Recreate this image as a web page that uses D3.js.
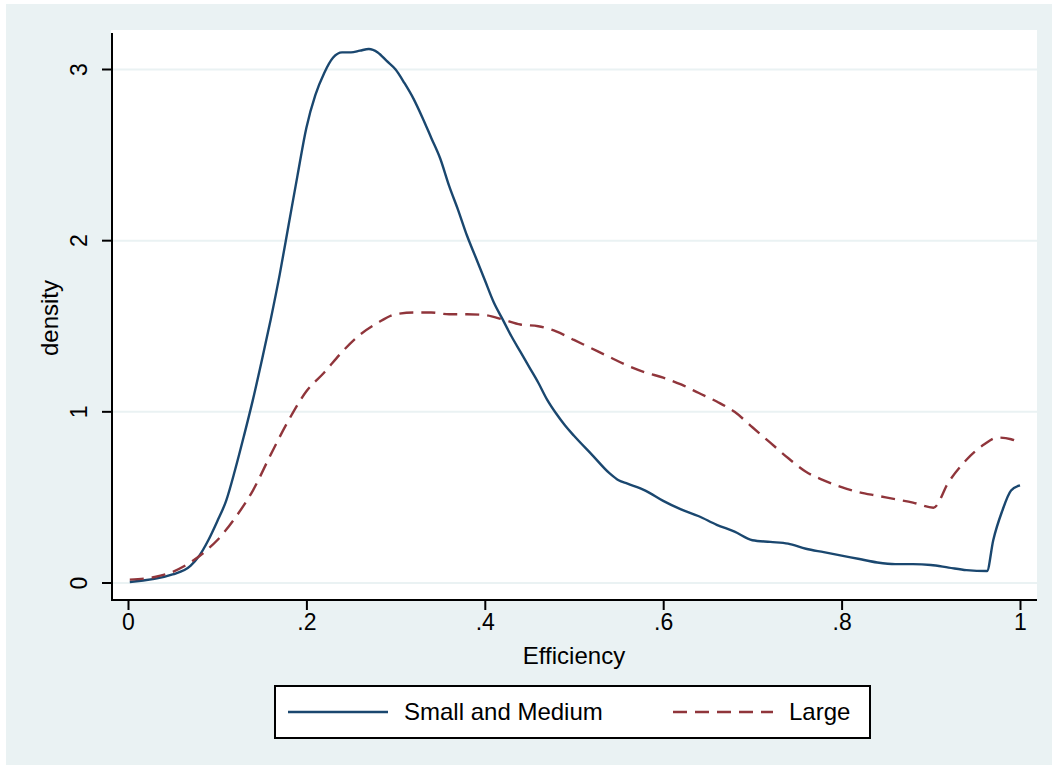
<!DOCTYPE html>
<html>
<head>
<meta charset="utf-8">
<script src="https://cdn.jsdelivr.net/npm/d3@7"></script>
<style>
  body { margin: 0; background: #fff; }
  text { font-family: "Liberation Sans", Arial, sans-serif; fill: #000; }
</style>
</head>
<body>
<div id="chart"></div>
<script>
// data
var xSmall = [0.002, 0.05, 0.07, 0.08, 0.09, 0.10, 0.11, 0.12, 0.13, 0.14, 0.15, 0.16, 0.17, 0.18, 0.19, 0.20,
  0.21, 0.22, 0.23, 0.24, 0.25, 0.26, 0.27, 0.28, 0.29, 0.30, 0.31, 0.32, 0.33, 0.34, 0.35, 0.36, 0.37, 0.38,
  0.39, 0.40, 0.41, 0.42, 0.43, 0.44, 0.45, 0.46, 0.47, 0.48, 0.49, 0.50, 0.52, 0.54, 0.55, 0.56, 0.58, 0.60,
  0.62, 0.64, 0.66, 0.68, 0.70, 0.72, 0.74, 0.76, 0.78, 0.80, 0.82, 0.84, 0.86, 0.88, 0.90, 0.92, 0.94, 0.963,
  0.97, 0.98, 0.99, 1.00];
var ySmall = [0.006, 0.05, 0.1, 0.16, 0.25, 0.36, 0.48, 0.66, 0.86, 1.07, 1.3, 1.54, 1.8, 2.09, 2.38, 2.66,
  2.85, 2.98, 3.07, 3.1, 3.1, 3.11, 3.12, 3.1, 3.05, 3.0, 2.92, 2.83, 2.72, 2.6, 2.48, 2.32, 2.18, 2.03,
  1.9, 1.77, 1.64, 1.54, 1.44, 1.35, 1.26, 1.17, 1.07, 0.99, 0.92, 0.86, 0.75, 0.64, 0.6, 0.58, 0.54, 0.48,
  0.43, 0.39, 0.34, 0.3, 0.25, 0.24, 0.23, 0.2, 0.18, 0.16, 0.14, 0.12, 0.11, 0.11, 0.105, 0.09, 0.075, 0.07,
  0.25, 0.42, 0.54, 0.57];

var xLarge = [0.002, 0.03, 0.05, 0.07, 0.09, 0.10, 0.12, 0.14, 0.16, 0.18, 0.20, 0.22, 0.24, 0.26, 0.28, 0.30,
  0.32, 0.34, 0.36, 0.38, 0.40, 0.42, 0.44, 0.46, 0.48, 0.50, 0.52, 0.54, 0.56, 0.58, 0.60, 0.62, 0.64, 0.66,
  0.68, 0.70, 0.72, 0.74, 0.76, 0.78, 0.80, 0.82, 0.84, 0.86, 0.88, 0.903, 0.92, 0.94, 0.96, 0.975, 0.99, 1.00];
var yLarge = [0.02, 0.035, 0.065, 0.12, 0.2, 0.25, 0.38, 0.54, 0.75, 0.95, 1.12, 1.23, 1.35, 1.45, 1.52, 1.57,
  1.58, 1.58, 1.57, 1.57, 1.565, 1.54, 1.51, 1.5, 1.47, 1.42, 1.37, 1.32, 1.27, 1.23, 1.2, 1.16, 1.11, 1.06,
  1.0, 0.91, 0.82, 0.73, 0.65, 0.6, 0.56, 0.53, 0.51, 0.49, 0.47, 0.44, 0.59, 0.72, 0.81, 0.85, 0.84, 0.82];

var xTicks = [0, 0.2, 0.4, 0.6, 0.8, 1];
var xTickLabels = ["0", ".2", ".4", ".6", ".8", "1"];
var yTicks = [0, 1, 2, 3];
var seriesNames = ["Small and Medium", "Large"];

var W = 1058, H = 769;
var bg = "#eaf2f3", navy = "#1a476f", maroon = "#90353b";
var tickFont = "23px", titleFont = "24px";

var svg = d3.select("#chart").append("svg")
  .attr("width", W)
  .attr("height", H);

// outer graph region
svg.append("rect")
  .attr("x", 6).attr("y", 4)
  .attr("width", 1046).attr("height", 761)
  .attr("fill", bg);

// plot region
var plot = { left: 111, right: 1037, top: 30, bottom: 600 };
svg.append("rect")
  .attr("x", plot.left).attr("y", plot.top)
  .attr("width", plot.right - plot.left)
  .attr("height", plot.bottom - plot.top)
  .attr("fill", "#fff");

var x = d3.scaleLinear().domain([0, 1]).range([128, 1020]);
var y = d3.scaleLinear().domain([0, 3]).range([583, 69.5]);

// gridlines
svg.append("g")
  .selectAll("line")
  .data(yTicks)
  .enter()
  .append("line")
  .attr("x1", plot.left).attr("x2", plot.right)
  .attr("y1", function(d) { return y(d); })
  .attr("y2", function(d) { return y(d); })
  .attr("stroke", bg)
  .attr("stroke-width", 2);

// y axis
var yAxis = svg.append("g")
  .attr("transform", "translate(" + (plot.left + 1) + ",0)")
  .call(d3.axisLeft(y).tickValues(yTicks).tickSize(10).tickFormat(d3.format("d")));
yAxis.select(".domain").attr("d", "M0," + 33 + "V" + plot.bottom);
yAxis.selectAll(".tick").attr("transform", null);
yAxis.selectAll(".tick line")
  .attr("y1", function(d) { return y(d); })
  .attr("y2", function(d) { return y(d); });
yAxis.selectAll("text")
  .attr("x", -33).attr("y", function(d) { return y(d); })
  .attr("transform", function(d) { return "rotate(-90," + (-33) + "," + y(d) + ")"; })
  .attr("dy", "0.35em")
  .style("text-anchor", "middle")
  .style("font-size", tickFont)
  .style("font-family", "Liberation Sans, Arial, sans-serif");
yAxis.selectAll("line, path").attr("stroke", "#000").attr("stroke-width", 2);

// x axis
var xAxis = svg.append("g")
  .attr("transform", "translate(0," + plot.bottom + ")")
  .call(d3.axisBottom(x).tickValues(xTicks).tickSize(10).tickPadding(4)
    .tickFormat(function(d, i) { return xTickLabels[i]; }));
xAxis.select(".domain").attr("d", "M" + plot.left + ",0H" + plot.right);
xAxis.selectAll("line, path").attr("stroke", "#000").attr("stroke-width", 2);
xAxis.selectAll("text")
  .style("font-size", tickFont)
  .style("font-family", "Liberation Sans, Arial, sans-serif");

// axis titles
svg.append("text")
  .attr("transform", "translate(58,318) rotate(-90)")
  .style("text-anchor", "middle")
  .style("font-size", titleFont)
  .text("density");
svg.append("text")
  .attr("x", 574).attr("y", 664)
  .style("text-anchor", "middle")
  .style("font-size", titleFont)
  .text("Efficiency");

// lines
var line = d3.line()
  .x(function(d) { return x(d[0]); })
  .y(function(d) { return y(d[1]); })
  .curve(d3.curveMonotoneX);

svg.append("path")
  .datum(d3.zip(xSmall, ySmall))
  .attr("d", line)
  .attr("fill", "none")
  .attr("stroke", navy)
  .attr("stroke-width", 2.4);

svg.append("path")
  .datum(d3.zip(xLarge, yLarge))
  .attr("d", line)
  .attr("fill", "none")
  .attr("stroke", maroon)
  .attr("stroke-width", 2.4)
  .attr("stroke-dasharray", "14,8");

// legend
var legend = svg.append("g");
legend.append("rect")
  .attr("x", 275).attr("y", 686)
  .attr("width", 595).attr("height", 52)
  .attr("fill", "#fff")
  .attr("stroke", "#000")
  .attr("stroke-width", 2);

var legendItems = [
  { name: seriesNames[0], color: navy, dash: null, x0: 288 },
  { name: seriesNames[1], color: maroon, dash: "14,8", x0: 673 }
];
legendItems.forEach(function(d) {
  legend.append("line")
    .attr("x1", d.x0).attr("x2", d.x0 + 100)
    .attr("y1", 712).attr("y2", 712)
    .attr("stroke", d.color)
    .attr("stroke-width", 2.4)
    .attr("stroke-dasharray", d.dash);
  legend.append("text")
    .attr("x", d.x0 + 116).attr("y", 712)
    .attr("dy", "0.35em")
    .style("font-size", titleFont)
    .text(d.name);
});
</script>
</body>
</html>
